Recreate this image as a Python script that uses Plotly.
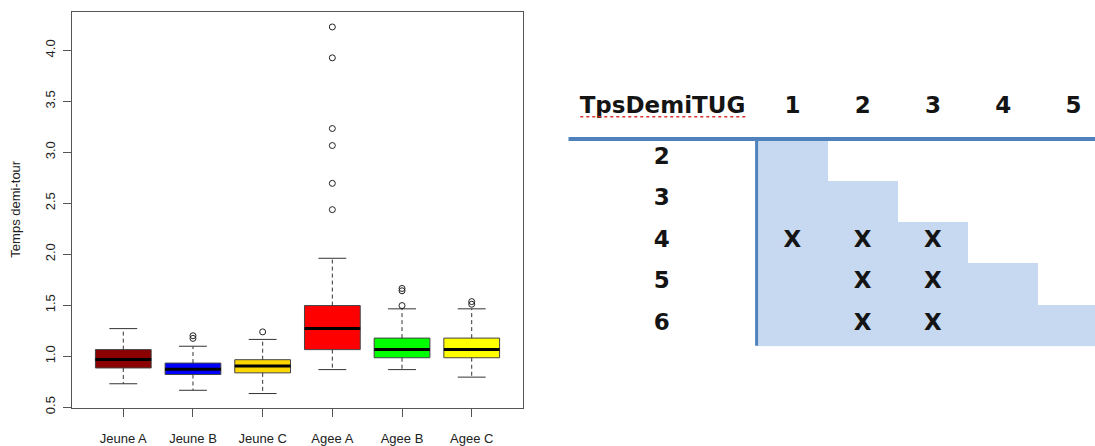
import plotly.graph_objects as go

# ---------------- Boxplot data ----------------
groups = ["Jeune A", "Jeune B", "Jeune C", "Agee A", "Agee B", "Agee C"]
colors = ["#8B0000", "#0000FF", "#FFD700", "#FF0000", "#00FF00", "#FFFF00"]
lower_whisker = [0.729, 0.665, 0.633, 0.868, 0.868, 0.794]
q1 = [0.884, 0.820, 0.836, 1.064, 0.984, 0.984]
median = [0.968, 0.871, 0.903, 1.271, 1.064, 1.064]
q3 = [1.064, 0.932, 0.965, 1.496, 1.177, 1.177]
upper_whisker = [1.270, 1.097, 1.164, 1.960, 1.464, 1.464]
outlier_group = [2, 2, 3, 4, 4, 4, 4, 4, 4, 5, 5, 5, 6, 6]
outlier_value = [1.200, 1.174, 1.238, 4.229, 3.926, 3.233, 3.066, 2.695, 2.437,
                 1.664, 1.641, 1.496, 1.535, 1.509]
y_ticks = [0.5, 1.0, 1.5, 2.0, 2.5, 3.0, 3.5, 4.0]
y_label = "Temps demi-tour"

# ---------------- Table data ----------------
table_title = "TpsDemiTUG"
col_labels = [1, 2, 3, 4, 5]
row_labels = [2, 3, 4, 5, 6]
shaded = [
    [1, 0, 0, 0, 0],
    [1, 1, 0, 0, 0],
    [1, 1, 1, 0, 0],
    [1, 1, 1, 1, 0],
    [1, 1, 1, 1, 1],
]
mark_cols = [1, 2, 3, 2, 3, 2, 3]
mark_rows = [4, 4, 4, 5, 5, 6, 6]

FONT = "Liberation Sans, Arial, sans-serif"
TFONT = "DejaVu Sans, Liberation Sans, Arial, sans-serif"
W, H = 1095, 446
pos = list(range(1, len(groups) + 1))
half = 0.4
cap = 0.2

fig = go.Figure()

# boxes as bars
for i, g in enumerate(groups):
    fig.add_trace(go.Bar(
        x=[pos[i]], y=[q3[i] - q1[i]], base=[q1[i]], width=2 * half,
        marker=dict(color=colors[i], line=dict(color="#444444", width=1)),
        xaxis="x", yaxis="y", hoverinfo="skip"))

# whiskers (dashed)
wx, wy = [], []
for i in range(len(groups)):
    wx += [pos[i], pos[i], None, pos[i], pos[i], None]
    wy += [q3[i], upper_whisker[i], None, q1[i], lower_whisker[i], None]
fig.add_trace(go.Scatter(x=wx, y=wy, mode="lines",
                         line=dict(color="#333333", width=1, dash="4px,3px"),
                         xaxis="x", yaxis="y", hoverinfo="skip"))
# caps
cx, cy = [], []
for i in range(len(groups)):
    cx += [pos[i] - cap, pos[i] + cap, None, pos[i] - cap, pos[i] + cap, None]
    cy += [upper_whisker[i], upper_whisker[i], None, lower_whisker[i], lower_whisker[i], None]
fig.add_trace(go.Scatter(x=cx, y=cy, mode="lines",
                         line=dict(color="#333333", width=1),
                         xaxis="x", yaxis="y", hoverinfo="skip"))
# medians
mx, my = [], []
for i in range(len(groups)):
    mx += [pos[i] - half, pos[i] + half, None]
    my += [median[i], median[i], None]
fig.add_trace(go.Scatter(x=mx, y=my, mode="lines",
                         line=dict(color="#000000", width=3),
                         xaxis="x", yaxis="y", hoverinfo="skip"))
# outliers
fig.add_trace(go.Scatter(x=outlier_group, y=outlier_value, mode="markers",
                         marker=dict(symbol="circle-open", size=6,
                                     color="#222222", line=dict(width=1)),
                         xaxis="x", yaxis="y", hoverinfo="skip"))

# ---------------- Table ----------------
z = [[1 if v else None for v in row] for row in shaded]
fig.add_trace(go.Heatmap(x=col_labels, y=row_labels, z=z,
                         colorscale=[[0, "#C6D9F0"], [1, "#C6D9F0"]],
                         showscale=False, xgap=0, ygap=0, hoverinfo="skip",
                         xaxis="x2", yaxis="y2"))

tfont = dict(family=TFONT, size=23, color="#141414", weight="bold")
header_y = 0.74
text_dy = -0.04
# header row
fig.add_trace(go.Scatter(x=col_labels, y=[header_y] * len(col_labels),
                         text=[str(c) for c in col_labels], mode="text",
                         textfont=tfont, xaxis="x2", yaxis="y2", hoverinfo="skip"))
fig.add_trace(go.Scatter(x=[-0.85], y=[header_y], text=[table_title], mode="text",
                         textfont=tfont, xaxis="x2", yaxis="y2", hoverinfo="skip"))
# row labels
fig.add_trace(go.Scatter(x=[-0.86] * len(row_labels), y=[r + text_dy for r in row_labels],
                         text=[str(r) for r in row_labels], mode="text",
                         textfont=tfont, xaxis="x2", yaxis="y2", hoverinfo="skip"))
# X marks
fig.add_trace(go.Scatter(x=mark_cols, y=[r + text_dy for r in mark_rows],
                         text=["X"] * len(mark_cols), mode="text",
                         textfont=tfont, xaxis="x2", yaxis="y2", hoverinfo="skip"))

x2_range = [-2.1906, 5.3073]
y2_range = [8.762, -1.857]

shapes = [
    # thick header rule
    dict(type="line", xref="x2", yref="y2", x0=x2_range[0], x1=x2_range[1],
         y0=1.5, y1=1.5, line=dict(color="#4F81BD", width=4)),
    # vertical rule
    dict(type="line", xref="x2", yref="y2", x0=0.49, x1=0.49,
         y0=1.5, y1=6.49, line=dict(color="#4F81BD", width=3)),
    # spell-check squiggle
    dict(type="line", xref="x2", yref="y2", x0=-2.02, x1=0.37,
         y0=0.96, y1=0.96, line=dict(color="#E03030", width=1.5, dash="dot")),
]

axis_font = dict(family=FONT, size=13, color="#222222")
fig.update_layout(
    width=W, height=H,
    margin=dict(l=0, r=0, t=0, b=0),
    paper_bgcolor="white", plot_bgcolor="white",
    showlegend=False, barmode="overlay",
    xaxis=dict(domain=[72 / W, 523 / W], range=[0.264, 6.736],
               tickvals=pos, ticktext=groups, ticks="outside", ticklen=8,
               tickcolor="#555555", showline=True, mirror=True,
               linecolor="#555555", linewidth=1, showgrid=False, zeroline=False,
               tickfont=axis_font, ticklabelstandoff=10, anchor="y"),
    yaxis=dict(domain=[(H - 414) / H, (H - 12.3) / H], range=[0.487, 4.3745],
               tickvals=y_ticks, ticktext=[f"{v:.1f}" for v in y_ticks],
               tickangle=-90, ticks="outside", ticklen=8, tickcolor="#555555",
               showline=True, mirror=True, linecolor="#555555", linewidth=1,
               showgrid=False, zeroline=False, tickfont=axis_font,
               ticklabelstandoff=3, anchor="x"),
    xaxis2=dict(domain=[568.3 / W, 1], range=x2_range, visible=False, anchor="y2"),
    yaxis2=dict(domain=[0, 1], range=y2_range, visible=False, anchor="x2"),
    shapes=shapes,
    annotations=[dict(text=y_label, textangle=-90, xref="paper", yref="paper",
                      x=16 / W, y=(H - 212.5) / H, showarrow=False,
                      xanchor="center", yanchor="middle", font=axis_font)],
)

post = (
    "var s='margin:0;padding:0;overflow:hidden;width:1095px;height:446px;';"
    "document.documentElement.style.cssText=s;"
    "document.body.style.cssText=s;"
    "var gd=document.getElementById('{plot_id}');"
    "if(gd&&gd.parentElement){gd.parentElement.style.cssText='margin:0;padding:0;line-height:0;font-size:0;height:446px;overflow:hidden;';}"
)
fig.write_html("out.html", config={"displayModeBar": False}, post_script=post)
